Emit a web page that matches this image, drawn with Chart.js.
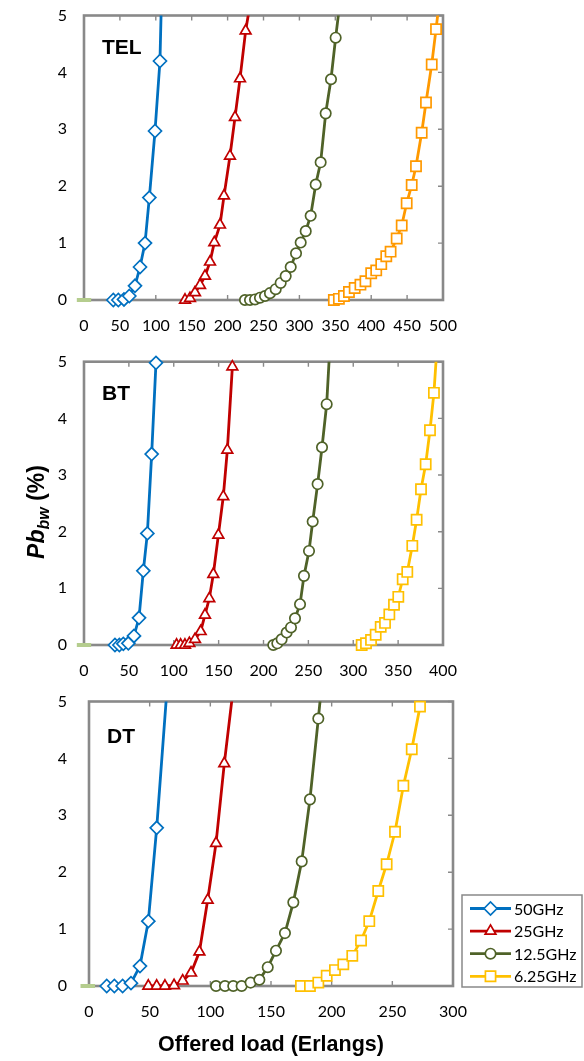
<!DOCTYPE html>
<html>
<head>
<meta charset="utf-8">
<script src="https://cdn.jsdelivr.net/npm/chart.js@4/dist/chart.umd.min.js"></script>
<style>
  html, body { margin: 0; padding: 0; background: #fff; width: 584px; height: 1061px; overflow: hidden; }
  canvas { position: absolute; left: 0; top: 0; }
</style>
</head>
<body>
<canvas id="tel" width="584" height="1061"></canvas>
<canvas id="bt" width="584" height="1061"></canvas>
<canvas id="dt" width="584" height="1061"></canvas>
<script>
// ---- series names ----
const seriesNames = ['50GHz', '25GHz', '12.5GHz', '6.25GHz'];

// ---- axis ticks ----
const pbTicks = [0, 1, 2, 3, 4, 5];
const loadTicksTEL = [0, 50, 100, 150, 200, 250, 300, 350, 400, 450, 500];
const loadTicksBT = [0, 50, 100, 150, 200, 250, 300, 350, 400];
const loadTicksDT = [0, 50, 100, 150, 200, 250, 300];

// ---- TEL network: offered load (Erlangs) vs bandwidth blocking (%) ----
const telLoad50  = [40.8, 47.8, 55.7, 63.1, 71.0, 78.0, 85.0, 91.0, 98.9, 105.8, 109.2];
const telPb50    = [0, 0, 0.01, 0.07, 0.25, 0.58, 1.00, 1.80, 2.97, 4.20, 6.0];
const telLoad25  = [140.7, 147.6, 154.6, 161.6, 168.5, 175.5, 181.5, 189.4, 195.0, 203.3, 210.3, 217.3, 225.1, 242.0];
const telPb25    = [0, 0.03, 0.13, 0.26, 0.42, 0.67, 1.01, 1.32, 1.83, 2.53, 3.21, 3.89, 4.73, 6.0];
const telLoad125 = [224.2, 231.2, 238.2, 245.1, 252.1, 259.0, 267.0, 273.9, 280.9, 287.9, 295.3, 301.8, 308.8, 315.7, 322.7, 329.6, 336.6, 344.0, 350.5, 363.7];
const telPb125   = [0, 0, 0.01, 0.04, 0.07, 0.12, 0.19, 0.30, 0.42, 0.58, 0.82, 1.01, 1.21, 1.48, 2.03, 2.42, 3.28, 3.88, 4.61, 6.0];
const telLoad625 = [348.0, 355.0, 362.0, 369.0, 377.0, 385.0, 392.0, 400.0, 407.0, 414.0, 421.0, 427.0, 435.5, 442.5, 449.4, 456.4, 462.4, 470.3, 476.3, 484.3, 490.3, 502.0];
const telPb625   = [0, 0.02, 0.07, 0.14, 0.21, 0.27, 0.33, 0.47, 0.52, 0.63, 0.77, 0.85, 1.08, 1.31, 1.70, 2.02, 2.35, 2.94, 3.47, 4.14, 4.76, 6.0];

// ---- BT network ----
const btLoad50  = [34.5, 39.4, 43.8, 49.4, 55.7, 61.3, 66.1, 70.6, 75.4, 80.2];
const btPb50    = [0, 0, 0.02, 0.03, 0.16, 0.48, 1.31, 1.97, 3.37, 4.98];
const btLoad25  = [103.2, 107.7, 112.5, 117.4, 123.7, 130.0, 134.8, 139.6, 144.1, 149.7, 155.2, 159.7, 165.3];
const btPb25    = [0, 0, 0, 0.03, 0.10, 0.24, 0.53, 0.82, 1.25, 1.94, 2.62, 3.44, 4.91];
const btLoad125 = [210.9, 215.4, 220.2, 225.8, 230.6, 235.1, 240.7, 245.1, 250.7, 254.8, 260.3, 265.2, 270.4, 276.5];
const btPb125   = [0, 0.03, 0.10, 0.22, 0.31, 0.47, 0.72, 1.22, 1.66, 2.18, 2.84, 3.49, 4.25, 6.0];
const btLoad625 = [309.4, 314.2, 319.8, 325.0, 330.6, 335.4, 340.2, 345.4, 350.2, 355.1, 360.2, 365.8, 370.6, 375.5, 380.7, 385.5, 389.9, 396.4];
const btPb625   = [0, 0.03, 0.09, 0.18, 0.32, 0.39, 0.54, 0.71, 0.85, 1.16, 1.29, 1.75, 2.21, 2.75, 3.19, 3.79, 4.45, 6.0];

// ---- DT network ----
const dtLoad50  = [14.6, 20.9, 27.7, 34.6, 42.0, 48.9, 55.8, 67.0];
const dtPb50    = [0, 0, 0, 0.05, 0.35, 1.14, 2.78, 6.0];
const dtLoad25  = [48.9, 55.8, 62.6, 70.1, 77.2, 84.1, 91.0, 97.8, 104.7, 111.5, 123.2];
const dtPb25    = [0, 0, 0, 0.01, 0.09, 0.23, 0.60, 1.51, 2.51, 3.91, 6.0];
const dtLoad125 = [104.7, 112.1, 118.9, 125.8, 133.2, 140.4, 147.3, 154.1, 161.5, 168.4, 175.3, 182.1, 189.0, 195.1];
const dtPb125   = [0, 0, 0, 0, 0.06, 0.11, 0.33, 0.62, 0.93, 1.47, 2.19, 3.28, 4.70, 6.0];
const dtLoad625 = [174.7, 182.1, 189.0, 195.9, 202.7, 209.6, 217.0, 224.2, 231.0, 238.4, 245.3, 252.2, 259.1, 266.0, 272.8];
const dtPb625   = [0, 0, 0.06, 0.18, 0.28, 0.38, 0.53, 0.80, 1.14, 1.67, 2.14, 2.71, 3.52, 4.16, 4.91];

// short zero-blocking stub near the origin of each panel
const stubLoadTEL = [-10, 10];
const stubLoadBT  = [-8, 8];
const stubLoadDT  = [-7, 5];
const stubPb      = [0, 0];

// ---- styling ----
const BLUE = '#0070c0', RED = '#c00000', OLIVE = '#4f6228', ORANGE = '#ff9900', GOLD = '#ffc000', STUB = '#b5cd8e';
const FRAME = '#898989';
const styles = [
  { color: BLUE,  pointStyle: 'rectRot',  radius: 6.5 },
  { color: RED,   pointStyle: 'triangle', radius: 6.2 },
  { color: OLIVE, pointStyle: 'circle',   radius: 5.2 },
  { color: GOLD,  pointStyle: 'rect',     radius: 7.2 }
];

function pts(xs, ys) { return xs.map((x, i) => ({ x: x, y: ys[i] })); }

function series(i, xs, ys, color, exitsTop) {
  const s = styles[i];
  return {
    label: seriesNames[i],
    data: pts(xs, ys),
    borderColor: color || s.color,
    backgroundColor: '#ffffff',
    borderWidth: 2.8,
    pointStyle: s.pointStyle,
    pointRadius: s.radius,
    pointBorderWidth: 1.7,
    pointBackgroundColor: '#ffffff',
    pointBorderColor: color || s.color,
    tension: 0,
    clip: { left: 12, right: 12, bottom: 12, top: exitsTop ? 0 : 12 }
  };
}

function stub(xs) {
  return {
    label: '',
    data: pts(xs, stubPb),
    borderColor: STUB,
    borderWidth: 4,
    pointRadius: 0,
    clip: false
  };
}

// frame with inward tick marks (top, bottom, right)
const framePlugin = {
  id: 'frame',
  beforeDatasetsDraw(chart) {
    const { ctx, chartArea: a, scales: { x, y } } = chart;
    ctx.save();
    ctx.strokeStyle = FRAME;
    ctx.lineWidth = 1.4;
    ctx.beginPath();
    x.ticks.forEach(t => {
      const px = x.getPixelForValue(t.value);
      ctx.moveTo(px, a.top); ctx.lineTo(px, a.top + 5);
      ctx.moveTo(px, a.bottom); ctx.lineTo(px, a.bottom - 5);
    });
    y.ticks.forEach(t => {
      const py = y.getPixelForValue(t.value);
      ctx.moveTo(a.right, py); ctx.lineTo(a.right - 5, py);
    });
    ctx.stroke();
    ctx.lineWidth = 2.6;
    ctx.strokeRect(a.left, a.top, a.right - a.left, a.bottom - a.top);
    ctx.restore();
  }
};

// network name in the top-left corner of each panel
const tagPlugin = {
  id: 'panelTag',
  afterDatasetsDraw(chart, args, opts) {
    const { ctx, chartArea: a } = chart;
    ctx.save();
    ctx.font = 'bold 21px "Liberation Sans", Arial, sans-serif';
    ctx.fillStyle = '#000';
    ctx.textBaseline = 'alphabetic';
    ctx.fillText(opts.text, a.left + 18, a.top + opts.dy);
    ctx.restore();
  }
};

// y-axis caption shared by the three panels
const yTitlePlugin = {
  id: 'yTitle',
  afterDraw(chart) {
    const ctx = chart.ctx;
    ctx.save();
    ctx.translate(44, 512);
    ctx.rotate(-Math.PI / 2);
    ctx.fillStyle = '#000';
    ctx.textBaseline = 'alphabetic';
    const big = 'bold italic 23px "Liberation Sans", Arial, sans-serif';
    const sub = 'bold italic 16px "Liberation Sans", Arial, sans-serif';
    const plain = 'bold 23px "Liberation Sans", Arial, sans-serif';
    const parts = [['Pb', big, 0], ['bw', sub, 5], [' (%)', plain, 0]];
    let w = 0;
    parts.forEach(p => { ctx.font = p[1]; w += ctx.measureText(p[0]).width; });
    let x = -w / 2;
    parts.forEach(p => {
      ctx.font = p[1];
      ctx.fillText(p[0], x, p[2]);
      x += ctx.measureText(p[0]).width;
    });
    ctx.restore();
  }
};

// boxed legend with line-and-marker keys
const legendPlugin = {
  id: 'boxLegend',
  afterDraw(chart) {
    const ctx = chart.ctx;
    const bx = 462, by = 895, bw = 120, bh = 92;
    ctx.save();
    ctx.fillStyle = '#fff';
    ctx.fillRect(bx, by, bw, bh);
    ctx.strokeStyle = FRAME;
    ctx.lineWidth = 1.5;
    ctx.strokeRect(bx, by, bw, bh);
    const entries = chart.data.datasets.filter(d => d.label);
    entries.forEach((ds, i) => {
      const cy = by + 13.5 + i * 22.6;
      ctx.strokeStyle = ds.borderColor;
      ctx.lineWidth = 2.8;
      ctx.beginPath();
      ctx.moveTo(470, cy); ctx.lineTo(511, cy);
      ctx.stroke();
      ctx.fillStyle = '#fff';
      ctx.lineWidth = ds.pointBorderWidth;
      Chart.helpers.drawPoint(ctx, { pointStyle: ds.pointStyle, radius: ds.pointRadius, borderWidth: ds.pointBorderWidth, rotation: 0 }, 490.5, cy);
      ctx.fillStyle = '#000';
      ctx.font = '16px Lato, sans-serif';
      ctx.textBaseline = 'middle';
      ctx.fillText(ds.label, 514, cy + 1);
    });
    ctx.restore();
  }
};

const tickFont = { family: 'Lato, sans-serif', size: 16 };

function makeChart(id, p) {
  return new Chart(document.getElementById(id), {
    type: 'line',
    data: { datasets: p.datasets },
    options: {
      responsive: false,
      animation: false,
      events: [],
      layout: { padding: { top: p.top, right: 584 - p.right, bottom: 0, left: 0 } },
      plugins: {
        legend: { display: false },
        tooltip: { enabled: false },
        panelTag: { text: p.tag, dy: p.tagDy }
      },
      scales: {
        x: {
          type: 'linear',
          min: p.ticks[0],
          max: p.ticks[p.ticks.length - 1],
          afterBuildTicks(s) { s.ticks = p.ticks.map(v => ({ value: v })); },
          afterFit(s) { s.height = 1061 - p.bottom; },
          grid: { display: false, drawTicks: false },
          border: { display: false },
          ticks: { font: tickFont, color: '#000', padding: 16, maxRotation: 0, autoSkip: false },
          title: p.xTitle ? {
            display: true,
            text: p.xTitle,
            font: { family: '"Liberation Sans", Arial, sans-serif', size: 21.5, weight: 'bold' },
            color: '#000',
            padding: { top: 0, bottom: 3 }
          } : { display: false }
        },
        y: {
          type: 'linear',
          min: 0,
          max: 5,
          afterBuildTicks(s) { s.ticks = pbTicks.map(v => ({ value: v })); },
          afterFit(s) { s.width = p.left; s.paddingTop = 0; s.paddingBottom = 0; },
          grid: { display: false, drawTicks: false },
          border: { display: false },
          ticks: { font: tickFont, color: '#000', padding: p.yPad }
        }
      }
    },
    plugins: [framePlugin, tagPlugin].concat(p.extra || [])
  });
}

makeChart('tel', {
  left: 84, right: 443, top: 15.5, bottom: 300, yPad: 17,
  ticks: loadTicksTEL, tag: 'TEL', tagDy: 38,
  datasets: [
    stub(stubLoadTEL),
    series(0, telLoad50, telPb50, null, true),
    series(1, telLoad25, telPb25, null, true),
    series(2, telLoad125, telPb125, null, true),
    series(3, telLoad625, telPb625, ORANGE, true)
  ]
});

makeChart('bt', {
  left: 84, right: 443, top: 361.7, bottom: 645, yPad: 17,
  ticks: loadTicksBT, tag: 'BT', tagDy: 38.5,
  extra: [yTitlePlugin],
  datasets: [
    stub(stubLoadBT),
    series(0, btLoad50, btPb50, null, false),
    series(1, btLoad25, btPb25, null, false),
    series(2, btLoad125, btPb125, null, true),
    series(3, btLoad625, btPb625, GOLD, true)
  ]
});

makeChart('dt', {
  left: 89, right: 453, top: 701.5, bottom: 986, yPad: 22,
  ticks: loadTicksDT, tag: 'DT', tagDy: 41.5,
  xTitle: 'Offered load (Erlangs)',
  extra: [legendPlugin],
  datasets: [
    stub(stubLoadDT),
    series(0, dtLoad50, dtPb50, null, true),
    series(1, dtLoad25, dtPb25, null, true),
    series(2, dtLoad125, dtPb125, null, true),
    series(3, dtLoad625, dtPb625, GOLD, false)
  ]
});
</script>
</body>
</html>
